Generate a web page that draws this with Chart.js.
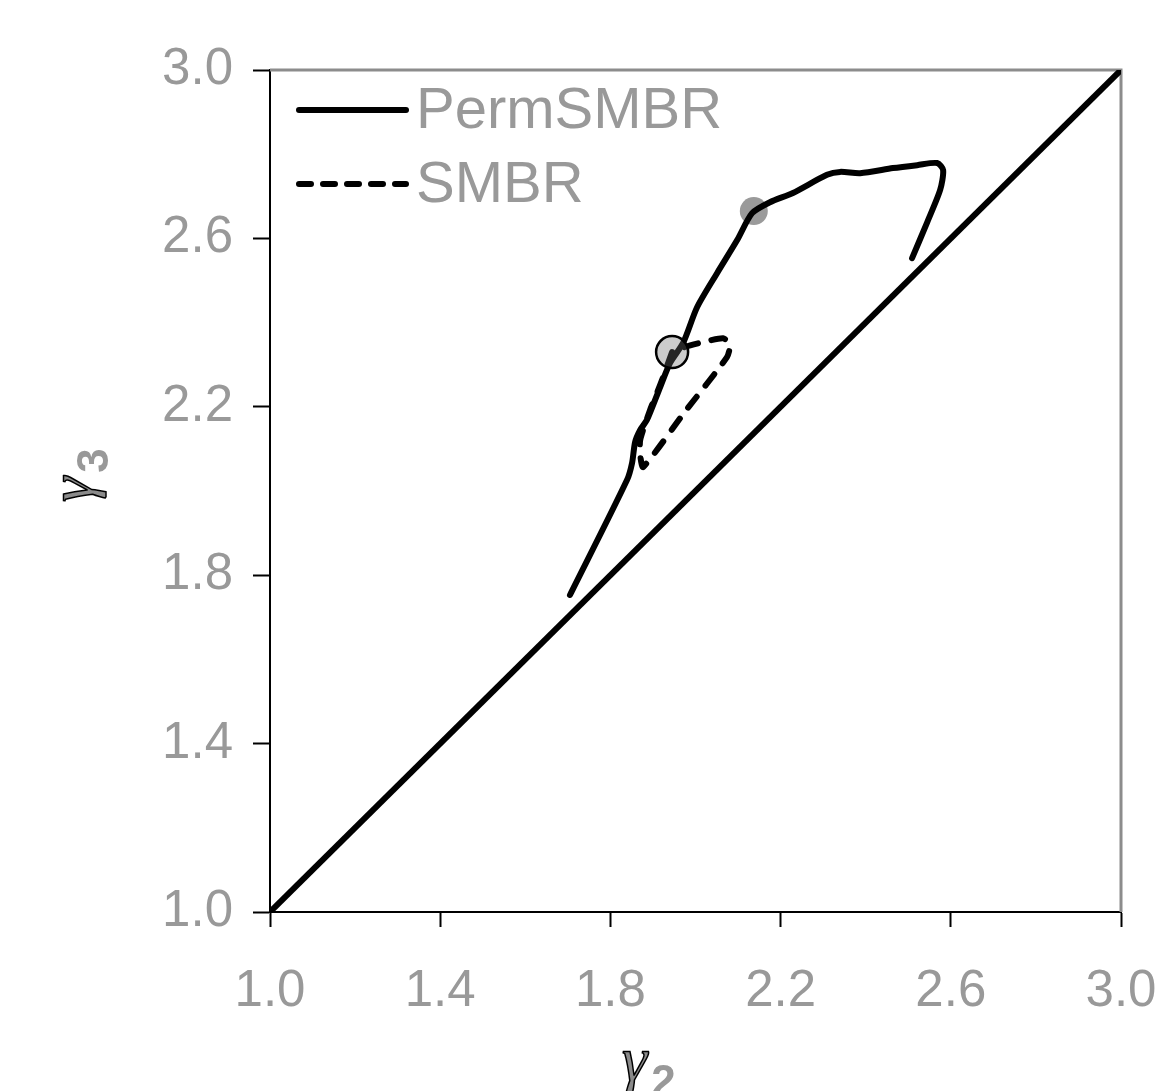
<!DOCTYPE html>
<html>
<head>
<meta charset="utf-8">
<script src="https://cdn.jsdelivr.net/npm/chart.js@4.4.1/dist/chart.umd.min.js"></script>
<style>
html,body{margin:0;padding:0;background:#fff;}
#wrap{width:1163px;height:1091px;position:relative;}
</style>
</head>
<body>
<div id="wrap"><canvas id="c" width="1163" height="1091"></canvas></div>
<script>
// ---- data ----
const tickValues = [1.0, 1.4, 1.8, 2.2, 2.6, 3.0];
const seriesNames = ['PermSMBR', 'SMBR'];

const permX = [1.705, 1.839, 1.851, 1.858, 1.870, 1.886, 1.917, 1.940, 1.971, 2.004, 2.051, 2.098, 2.133, 2.175, 2.229, 2.309, 2.340, 2.387, 2.464, 2.521, 2.568, 2.582, 2.575, 2.544, 2.509];
const permY = [1.753, 2.026, 2.067, 2.116, 2.145, 2.169, 2.247, 2.304, 2.352, 2.437, 2.518, 2.596, 2.660, 2.686, 2.708, 2.751, 2.758, 2.755, 2.767, 2.774, 2.779, 2.762, 2.715, 2.637, 2.553];

const smbrX = [1.945, 1.917, 1.893, 1.870, 1.870, 1.877, 1.975, 2.074, 2.081, 2.065, 2.011, 1.975, 1.945];
const smbrY = [2.330, 2.252, 2.192, 2.121, 2.086, 2.057, 2.188, 2.318, 2.347, 2.363, 2.352, 2.342, 2.330];

const diagX = [1.0, 3.0];
const diagY = [1.0, 3.0];

const markerA = {x: 2.137, y: 2.665};
const markerB = {x: 1.945, y: 2.330};

const toPts = (xs, ys) => xs.map((x, i) => ({x: x, y: ys[i]}));

const GRAY_TXT = '#999999';

const framePlugin = {
  id: 'frame',
  beforeDatasetsDraw(chart) {
    const {ctx, chartArea: a} = chart;
    ctx.save();
    ctx.strokeStyle = '#8c8c8c';
    ctx.lineWidth = 3;
    ctx.beginPath();
    ctx.moveTo(a.left, a.top);
    ctx.lineTo(a.right, a.top);
    ctx.lineTo(a.right, a.bottom);
    ctx.stroke();
    ctx.restore();
  },
  afterDraw(chart) {
    const {ctx} = chart;
    ctx.save();
    // legend
    ctx.lineCap = 'round';
    ctx.strokeStyle = '#000';
    ctx.lineWidth = 6;
    ctx.beginPath(); ctx.moveTo(299, 110); ctx.lineTo(406, 110); ctx.stroke();
    ctx.setLineDash([12, 12]);
    ctx.beginPath(); ctx.moveTo(299, 184); ctx.lineTo(406, 184); ctx.stroke();
    ctx.setLineDash([]);
    ctx.fillStyle = GRAY_TXT;
    ctx.font = '58px "Liberation Sans", Arial, sans-serif';
    ctx.textBaseline = 'middle';
    ctx.textAlign = 'left';
    ctx.fillText(seriesNames[0], 416, 112);
    ctx.fillText(seriesNames[1], 416, 186);

    // axis titles
    const drawTitle = (sub) => {
      ctx.font = 'italic 64px "Liberation Serif", "DejaVu Serif", serif';
      ctx.textBaseline = 'alphabetic';
      ctx.textAlign = 'left';
      ctx.fillStyle = '#8a8a8a';
      ctx.strokeStyle = '#000';
      ctx.lineWidth = 1.5;
      ctx.fillText('\u03b3', 0, 0);
      ctx.strokeText('\u03b3', 0, 0);
      const w = ctx.measureText('\u03b3').width;
      ctx.font = 'bold 44px "Liberation Sans", Arial, sans-serif';
      ctx.fillStyle = GRAY_TXT;
      ctx.fillText(sub, w + 4, 16);
    };
    // y title, rotated
    ctx.save();
    ctx.translate(92, 502);
    ctx.rotate(-Math.PI / 2);
    drawTitle('3');
    ctx.restore();
    // x title
    ctx.save();
    ctx.translate(622, 1080);
    drawTitle('2');
    ctx.restore();
    ctx.restore();
  }
};

new Chart(document.getElementById('c'), {
  type: 'scatter',
  data: {
    datasets: [
      {
        label: 'markerB', data: [markerB], order: 1,
        pointRadius: 16, pointHoverRadius: 16,
        backgroundColor: 'rgba(110,110,110,0.35)', borderColor: '#000', borderWidth: 2.5,
        showLine: false
      },
      {
        label: seriesNames[0], data: toPts(permX, permY), order: 2,
        showLine: true, borderColor: '#000', borderWidth: 6, pointRadius: 0,
        tension: 0.25, borderCapStyle: 'round', borderJoinStyle: 'round', fill: false
      },
      {
        label: seriesNames[1], data: toPts(smbrX, smbrY), order: 3,
        showLine: true, borderColor: '#000', borderWidth: 6, pointRadius: 0,
        borderDash: [14, 14], tension: 0.2, borderCapStyle: 'round', borderJoinStyle: 'round', fill: false
      },
      {
        label: 'diag', data: toPts(diagX, diagY), order: 4,
        showLine: true, borderColor: '#000', borderWidth: 6, pointRadius: 0, fill: false
      },
      {
        label: 'markerA', data: [markerA], order: 5,
        pointRadius: 14, pointHoverRadius: 14,
        backgroundColor: '#9a9a9a', borderWidth: 0, showLine: false
      }
    ]
  },
  options: {
    responsive: false,
    animation: false,
    events: [],
    layout: {padding: {top: 70, right: 42, left: 0, bottom: 0}},
    plugins: {legend: {display: false}, tooltip: {enabled: false}, title: {display: false}},
    scales: {
      x: {
        type: 'linear', min: 1, max: 3,
        afterFit: s => { s.height = 179; s.paddingLeft = 0; s.paddingRight = 0; },
        afterBuildTicks: s => { s.ticks = tickValues.map(v => ({value: v})); },
        ticks: {
          callback: v => Number(v).toFixed(1), color: GRAY_TXT, padding: 34,
          font: {family: '"Liberation Sans", Arial, sans-serif', size: 51},
          maxRotation: 0, autoSkip: false
        },
        grid: {display: true, drawOnChartArea: false, drawTicks: true, tickLength: 15, tickWidth: 2, tickColor: '#000'},
        border: {display: true, color: '#000', width: 2}
      },
      y: {
        type: 'linear', min: 1, max: 3,
        afterFit: s => { s.width = 270; s.paddingTop = 0; s.paddingBottom = 0; },
        afterBuildTicks: s => { s.ticks = tickValues.map(v => ({value: v})); },
        ticks: {
          callback: v => Number(v).toFixed(1), color: GRAY_TXT, padding: 20,
          font: {family: '"Liberation Sans", Arial, sans-serif', size: 51},
          autoSkip: false
        },
        grid: {display: true, drawOnChartArea: false, drawTicks: true, tickLength: 17, tickWidth: 2, tickColor: '#000'},
        border: {display: true, color: '#000', width: 2}
      }
    }
  },
  plugins: [framePlugin]
});
</script>
</body>
</html>
